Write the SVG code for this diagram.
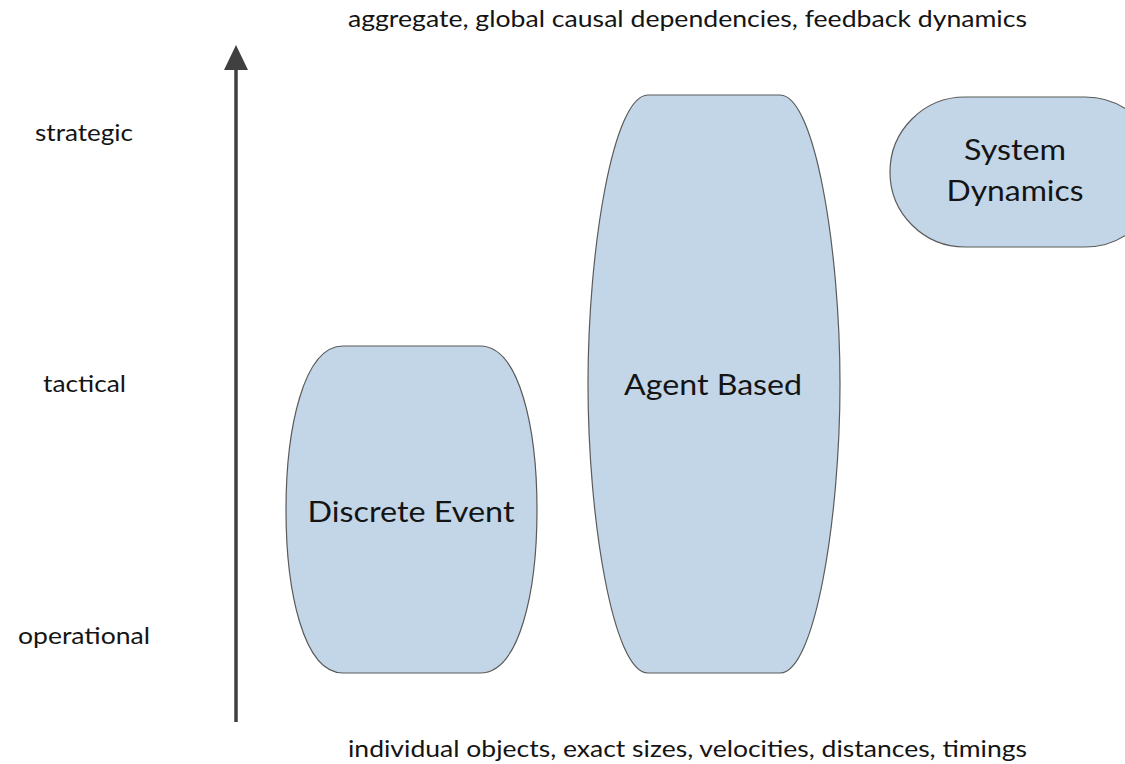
<svg xmlns="http://www.w3.org/2000/svg" width="1125" height="764" viewBox="0 0 1125 764">
  <style>
    .bg { fill: #ffffff; }
    .shape { fill: #c3d6e8; stroke: #5a5a5a; stroke-width: 1.2; }
    .axis { stroke: #404040; stroke-width: 3.5; fill: none; }
    .head { fill: #404040; }
    .lbl { font-family: Lato, "Open Sans", "Liberation Sans", sans-serif; fill: #141414; }
    .side { font-size: 23.5px; }
    .cap { font-size: 23px; }
    .node { font-size: 29px; text-anchor: middle; }
  </style>
  <rect class="bg" x="0" y="0" width="1125" height="764"/>

  <!-- vertical axis -->
  <g id="connectors">
    <line class="axis" x1="236" y1="722" x2="236" y2="66"/>
    <path class="head" d="M236,45 L248,70 L224,70 Z"/>
  </g>

  <!-- axis captions -->
  <text class="lbl cap" x="348" y="27" textLength="679" lengthAdjust="spacingAndGlyphs">aggregate, global causal dependencies, feedback dynamics</text>
  <text class="lbl cap" x="348" y="757" textLength="679" lengthAdjust="spacingAndGlyphs">individual objects, exact sizes, velocities, distances, timings</text>

  <text class="lbl side" x="35" y="141" textLength="98" lengthAdjust="spacingAndGlyphs">strategic</text>
  <text class="lbl side" x="43" y="392" textLength="83" lengthAdjust="spacingAndGlyphs">tactical</text>
  <text class="lbl side" x="18" y="644" textLength="132" lengthAdjust="spacingAndGlyphs">operational</text>

  <!-- Discrete Event -->
  <g id="discrete-event">
    <path class="shape" d="M343,346 H480 C520,346 537,430 537,510 C537,590 520,673 480,673 H343 C303,673 286,590 286,510 C286,430 303,346 343,346 Z"/>
    <text class="lbl node" x="411" y="522" textLength="207" lengthAdjust="spacingAndGlyphs">Discrete Event</text>
  </g>

  <!-- Agent Based -->
  <g id="agent-based">
    <path class="shape" d="M648,95 H780 C815,95 840,250 840,384 C840,518 815,673 780,673 H648 C613,673 588,518 588,384 C588,250 613,95 648,95 Z"/>
    <text class="lbl node" x="713" y="395" textLength="178" lengthAdjust="spacingAndGlyphs">Agent Based</text>
  </g>

  <!-- System Dynamics -->
  <g id="system-dynamics">
    <rect class="shape" x="890" y="97" width="270" height="150" rx="75" ry="75"/>
    <text class="lbl node" x="1015" y="160" textLength="102" lengthAdjust="spacingAndGlyphs">System</text>
    <text class="lbl node" x="1015" y="201" textLength="137" lengthAdjust="spacingAndGlyphs">Dynamics</text>
  </g>
</svg>
